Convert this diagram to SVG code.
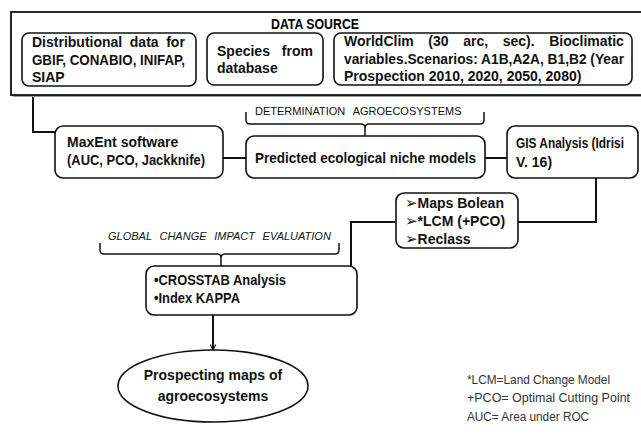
<svg xmlns="http://www.w3.org/2000/svg" width="641" height="436" viewBox="0 0 641 436">
  <style>
    .box { fill: #ffffff; stroke: #111111; stroke-width: 1.6; }
    .frame { fill: #ffffff; stroke: #111111; stroke-width: 1.8; }
    .link { fill: none; stroke: #111111; stroke-width: 2; }
    .brace { fill: none; stroke: #111111; stroke-width: 1.5; }
    .t { font-family: "Liberation Sans", Arial, sans-serif; font-weight: bold; font-size: 14px; fill: #111111; }
    .title { font-family: "Liberation Sans", Arial, sans-serif; font-weight: bold; font-size: 14px; fill: #000000; }
    .cap { font-family: "Liberation Sans", Arial, sans-serif; font-size: 11px; fill: #111111; }
    .capi { font-family: "Liberation Sans", Arial, sans-serif; font-style: italic; font-size: 11px; fill: #111111; }
    .note { font-family: "Liberation Sans", Arial, sans-serif; font-size: 13.5px; fill: #333333; }
    .mark { font-family: "DejaVu Sans", sans-serif; font-weight: bold; font-size: 15px; }
  </style>
  <defs>
    <marker id="arrow" viewBox="0 0 10 10" refX="9" refY="5" markerWidth="7" markerHeight="7" orient="auto" markerUnits="userSpaceOnUse">
      <path d="M1,1 L9,5 L1,9" fill="none" stroke="#111111" stroke-width="1.6"/>
    </marker>
  </defs>

  <!-- connectors -->
  <g id="connectors">
    <path class="link" d="M33,95 V132 H55"/>
    <path class="link" d="M223,158 H246"/>
    <path class="link" d="M485,158 H507"/>
    <path class="link" d="M596,178 V222 H518"/>
    <path class="link" d="M396,222 H351 V266"/>
    <path class="link" d="M213,315 V350" marker-end="url(#arrow)"/>
    <path class="brace" d="M246,112 V120 Q246,124 250,124 H361 Q365,124 365,128 V136 M365,128 Q365,124 369,124 H480 Q484,124 484,120 V112"/>
    <path class="brace" d="M100,243 V250 Q100,254 104,254 H217 Q221,254 221,258 V266 M221,258 Q221,254 225,254 H335 Q339,254 339,250 V243"/>
  </g>

  <!-- data source frame -->
  <g id="data-source">
    <rect x="13" y="14" width="640" height="83" fill="#9a9a9a"/>
    <rect class="frame" x="11" y="12" width="640" height="83"/>
    <text class="title" x="271" y="29" textLength="88" lengthAdjust="spacingAndGlyphs">DATA SOURCE</text>
  </g>

  <g id="distributional">
    <rect class="box" x="22" y="33" width="174" height="53" rx="7"/>
    <text class="t" x="32" y="47" word-spacing="3.7">Distributional data for</text>
    <text class="t" x="32" y="65" textLength="153" lengthAdjust="spacingAndGlyphs">GBIF, CONABIO, INIFAP,</text>
    <text class="t" x="32" y="82">SIAP</text>
  </g>

  <g id="species">
    <rect class="box" x="207" y="33" width="116" height="52" rx="7"/>
    <text class="t" x="217" y="56" word-spacing="8">Species from</text>
    <text class="t" x="217" y="73">database</text>
  </g>

  <g id="worldclim">
    <rect class="box" x="334" y="33" width="298" height="52" rx="7"/>
    <text class="t" x="344" y="46" word-spacing="10.7">WorldClim (30 arc, sec). Bioclimatic</text>
    <text class="t" x="344" y="64" textLength="280" lengthAdjust="spacingAndGlyphs">variables.Scenarios: A1B,A2A, B1,B2 (Year</text>
    <text class="t" x="344" y="81">Prospection 2010, 2020, 2050, 2080)</text>
  </g>

  <g id="determination">
    <text class="cap" x="255" y="115" word-spacing="5">DETERMINATION AGROECOSYSTEMS</text>
  </g>

  <g id="maxent">
    <rect class="box" x="55" y="126" width="168" height="52" rx="8"/>
    <text class="t" x="67" y="147">MaxEnt software</text>
    <text class="t" x="67" y="165" textLength="138" lengthAdjust="spacingAndGlyphs">(AUC, PCO, Jackknife)</text>
  </g>

  <g id="predicted">
    <rect class="box" x="246" y="136" width="239" height="42" rx="8"/>
    <text class="t" x="255" y="163" textLength="221" lengthAdjust="spacingAndGlyphs">Predicted ecological niche models</text>
  </g>

  <g id="gis">
    <rect class="box" x="507" y="126" width="131" height="52" rx="8"/>
    <text class="t" transform="translate(516,148) scale(0.85,1)">GIS Analysis (Idrisi</text>
    <text class="t" x="516" y="167">V. 16)</text>
  </g>

  <g id="processing">
    <rect class="box" x="396" y="193" width="122" height="55" rx="8"/>
    <text class="t" x="405" y="208"><tspan class="mark">➢</tspan>Maps Bolean</text>
    <text class="t" x="405" y="226"><tspan class="mark">➢</tspan>*LCM (+PCO)</text>
    <text class="t" x="405" y="244"><tspan class="mark">➢</tspan>Reclass</text>
  </g>

  <g id="global-change">
    <text class="capi" x="108" y="240" word-spacing="4.6">GLOBAL CHANGE IMPACT EVALUATION</text>
  </g>

  <g id="crosstab">
    <rect class="box" x="146" y="266" width="211" height="49" rx="8"/>
    <text class="t" x="154" y="285" textLength="132" lengthAdjust="spacingAndGlyphs">•CROSSTAB Analysis</text>
    <text class="t" x="154" y="303" textLength="86" lengthAdjust="spacingAndGlyphs">•Index KAPPA</text>
  </g>

  <g id="prospecting">
    <ellipse class="box" cx="213" cy="386" rx="95" ry="36"/>
    <text class="t" x="213" y="380" text-anchor="middle">Prospecting maps of</text>
    <text class="t" x="213" y="401" text-anchor="middle">agroecosystems</text>
  </g>

  <g id="legend">
    <text class="note" transform="translate(467,384) scale(0.877,1)">*LCM=Land Change Model</text>
    <text class="note" transform="translate(467,402) scale(0.925,1)">+PCO= Optimal Cutting Point</text>
    <text class="note" transform="translate(467,421) scale(0.874,1)">AUC= Area under ROC</text>
  </g>
</svg>
